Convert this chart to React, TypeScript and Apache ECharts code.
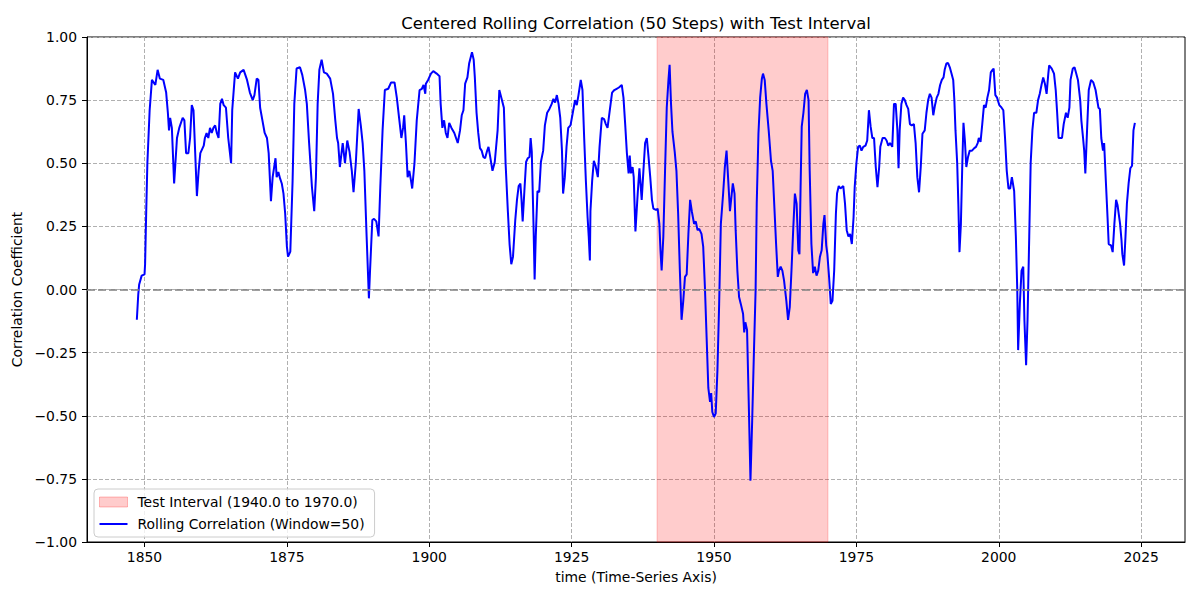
import React, { useEffect, useRef } from "react";
import * as echarts from "echarts";

const TITLE = "Centered Rolling Correlation (50 Steps) with Test Interval";
const X_NAME = "time (Time-Series Axis)";
const Y_NAME = "Correlation Coefficient";
const LINE_NAME = "Rolling Correlation (Window=50)";
const SPAN_NAME = "Test Interval (1940.0 to 1970.0)";
const SPAN_START = 1940;
const SPAN_END = 1970;
const X_TICKS = [1850, 1875, 1900, 1925, 1950, 1975, 2000, 2025];

const years = [
  1848.65, 1848.9, 1849.06, 1849.5, 1850.0, 1850.1, 1850.3, 1850.5, 1850.9, 1851.3, 1851.9, 1852.3, 1852.7, 1853.3, 1853.8,
  1854.1, 1854.3, 1854.5, 1854.8, 1855.2, 1855.7, 1856.1, 1856.7, 1857.0, 1857.3, 1857.7, 1858.0, 1858.3, 1858.6, 1858.9,
  1859.2, 1859.5, 1859.8, 1860.4, 1860.6, 1860.9, 1861.2, 1861.5, 1861.8, 1862.1, 1862.4, 1862.7, 1863.0, 1863.3, 1863.6,
  1863.9, 1864.3, 1864.7, 1865.2, 1865.4, 1865.9, 1866.4, 1866.8, 1867.4, 1868.0, 1868.5, 1869.0, 1869.3, 1869.7, 1870.0,
  1870.3, 1870.7, 1871.1, 1871.5, 1871.8, 1872.2, 1872.5, 1873.0, 1873.2, 1873.5, 1873.8, 1874.1, 1874.4, 1874.7, 1875.0,
  1875.2, 1875.6, 1876.0, 1876.3, 1876.7, 1877.3, 1877.7, 1878.2, 1878.5, 1878.9, 1879.4, 1879.8, 1880.1, 1880.4, 1880.7,
  1881.1, 1881.5, 1882.0, 1882.6, 1883.1, 1883.5, 1883.8, 1884.0, 1884.3, 1884.8, 1885.2, 1885.6, 1886.0, 1886.4, 1886.7,
  1887.1, 1887.6, 1888.0, 1888.3, 1888.6, 1889.0, 1889.4, 1889.6, 1890.0, 1890.3, 1890.7, 1891.1, 1891.4, 1891.8, 1892.2,
  1892.8, 1893.3, 1893.9, 1894.3, 1894.7, 1895.1, 1895.4, 1895.6, 1895.9, 1896.2, 1896.5, 1896.8, 1897.0, 1897.4, 1897.8,
  1898.3, 1898.7, 1899.0, 1899.3, 1899.4, 1899.8, 1900.3, 1900.7, 1901.3, 1901.8, 1902.0, 1902.3, 1902.6, 1902.9, 1903.2,
  1903.5, 1903.9, 1904.4, 1904.7, 1905.0, 1905.4, 1905.7, 1906.0, 1906.3, 1906.7, 1907.0, 1907.5, 1907.8, 1908.0, 1908.3,
  1908.6, 1908.9, 1909.2, 1909.5, 1909.8, 1910.1, 1910.4, 1910.7, 1911.1, 1911.5, 1912.0, 1912.3, 1912.7, 1913.1, 1913.4,
  1913.8, 1914.1, 1914.4, 1914.7, 1915.1, 1915.4, 1915.7, 1916.0, 1916.2, 1916.4, 1916.7, 1917.0, 1917.3, 1917.6, 1917.8,
  1918.0, 1918.3, 1918.5, 1918.7, 1919.0, 1919.3, 1919.6, 1920.0, 1920.3, 1920.7, 1921.1, 1921.5, 1921.8, 1922.1, 1922.4,
  1922.7, 1923.0, 1923.3, 1923.5, 1923.8, 1924.1, 1924.4, 1924.8, 1925.2, 1925.6, 1925.9, 1926.2, 1926.6, 1926.9, 1927.2,
  1927.5, 1927.8, 1928.0, 1928.2, 1928.3, 1928.6, 1928.9, 1929.2, 1929.6, 1929.9, 1930.3, 1930.7, 1931.0, 1931.3, 1931.7,
  1932.1, 1932.5, 1932.9, 1933.3, 1933.8, 1934.1, 1934.4, 1934.7, 1935.0, 1935.2, 1935.4, 1935.7, 1935.9, 1936.2, 1936.6,
  1936.9, 1937.3, 1937.6, 1937.9, 1938.2, 1938.5, 1938.8, 1939.1, 1939.35, 1939.8, 1940.1, 1940.4, 1940.6, 1940.8, 1941.1,
  1941.4, 1941.7, 1942.0, 1942.2, 1942.45, 1942.7, 1943.1, 1943.4, 1943.7, 1944.0, 1944.3, 1944.6, 1944.9, 1945.2, 1945.5,
  1945.8, 1946.1, 1946.5, 1946.8, 1947.1, 1947.4, 1947.8, 1948.1, 1948.4, 1948.7, 1949.0, 1949.3, 1949.5, 1949.7, 1950.0,
  1950.3, 1950.6, 1950.9, 1951.2, 1951.6, 1951.9, 1952.2, 1952.5, 1952.8, 1953.3, 1953.6, 1953.8, 1954.1, 1954.4, 1954.7,
  1955.1, 1955.3, 1955.5, 1955.8, 1956.1, 1956.4, 1956.7, 1957.0, 1957.3, 1957.5, 1957.8, 1958.1, 1958.4, 1958.6, 1958.9,
  1959.2, 1959.6, 1960.0, 1960.3, 1960.6, 1960.9, 1961.2, 1961.4, 1961.7, 1962.0, 1962.3, 1962.7, 1963.0, 1963.3, 1963.6,
  1963.9, 1964.2, 1964.5, 1964.8, 1965.0, 1965.2, 1965.4, 1965.7, 1966.0, 1966.3, 1966.6, 1966.8, 1967.1, 1967.4, 1967.7,
  1968.0, 1968.3, 1968.6, 1968.9, 1969.2, 1969.4, 1969.7, 1969.9, 1970.2, 1970.5, 1970.8, 1971.1, 1971.4, 1971.6, 1971.9,
  1972.2, 1972.7, 1973.0, 1973.3, 1973.6, 1973.9, 1974.2, 1974.5, 1974.7, 1975.0, 1975.3, 1975.6, 1975.9, 1976.2, 1976.6,
  1976.9, 1977.2, 1977.5, 1977.8, 1978.1, 1978.4, 1978.7, 1979.0, 1979.2, 1979.6, 1980.0, 1980.3, 1980.6, 1980.9, 1981.3,
  1981.6, 1981.9, 1982.2, 1982.4, 1982.6, 1982.9, 1983.2, 1983.5, 1983.8, 1984.1, 1984.4, 1984.7, 1985.1, 1985.4, 1985.7,
  1986.0, 1986.3, 1986.6, 1987.0, 1987.3, 1987.6, 1987.9, 1988.2, 1988.5, 1988.8, 1989.1, 1989.4, 1989.7, 1990.0, 1990.3,
  1990.5, 1990.8, 1991.1, 1991.4, 1991.7, 1992.0, 1992.2, 1992.4, 1992.7, 1992.9, 1993.1, 1993.35, 1993.6, 1993.8, 1994.05,
  1994.3, 1994.6, 1994.9, 1995.3, 1995.7, 1996.0, 1996.3, 1996.5, 1996.8, 1997.1, 1997.4, 1997.7, 1998.0, 1998.3, 1998.6,
  1998.9, 1999.1, 1999.4, 1999.7, 2000.1, 2000.5, 2000.8, 2001.1, 2001.4, 2001.7, 2002.0, 2002.3, 2002.7, 2003.0, 2003.25,
  2003.4, 2003.7, 2004.0, 2004.3, 2004.5, 2004.8, 2005.05, 2005.35, 2005.6, 2005.9, 2006.2, 2006.6, 2006.9, 2007.2, 2007.5,
  2007.8, 2008.1, 2008.4, 2008.7, 2008.85, 2009.3, 2009.7, 2010.0, 2010.25, 2010.5, 2010.8, 2011.1, 2011.4, 2011.8, 2012.1,
  2012.4, 2012.6, 2013.0, 2013.3, 2013.6, 2013.9, 2014.3, 2014.5, 2014.8, 2015.0, 2015.2, 2015.5, 2015.8, 2016.2, 2016.6,
  2017.0, 2017.5, 2017.75, 2018.0, 2018.3, 2018.5, 2018.8, 2019.1, 2019.3, 2019.7, 2020.0, 2020.3, 2020.6, 2020.85, 2021.3,
  2021.55, 2021.7, 2022.0, 2022.25, 2022.5, 2022.8, 2023.1, 2023.4, 2023.65, 2023.9,
];

const correlation = [
  -0.12, -0.02, 0.02, 0.055, 0.06, 0.1, 0.31, 0.5, 0.71, 0.83, 0.81, 0.87, 0.835, 0.83, 0.78,
  0.7, 0.63, 0.68, 0.64, 0.42, 0.6, 0.64, 0.68, 0.67, 0.54, 0.54, 0.6, 0.73, 0.71, 0.54,
  0.37, 0.47, 0.54, 0.57, 0.6, 0.62, 0.6, 0.64, 0.62, 0.64, 0.65, 0.62, 0.6, 0.735, 0.755,
  0.73, 0.72, 0.6, 0.5, 0.71, 0.86, 0.835, 0.86, 0.87, 0.83, 0.78, 0.75, 0.77, 0.835, 0.83,
  0.72, 0.67, 0.62, 0.6, 0.54, 0.35, 0.445, 0.52, 0.445, 0.465, 0.44, 0.42, 0.38, 0.3, 0.17,
  0.13, 0.15, 0.43, 0.735, 0.875, 0.88, 0.85, 0.79, 0.735, 0.58, 0.405, 0.31, 0.445, 0.735, 0.87,
  0.91, 0.86, 0.855, 0.835, 0.775, 0.67, 0.6, 0.58, 0.485, 0.58, 0.5, 0.59, 0.545, 0.47, 0.385,
  0.5, 0.715, 0.645, 0.58, 0.47, 0.21, -0.035, 0.075, 0.275, 0.28, 0.27, 0.21, 0.405, 0.63, 0.79,
  0.795, 0.82, 0.82, 0.76, 0.68, 0.6, 0.64, 0.69, 0.58, 0.445, 0.47, 0.43, 0.4, 0.5, 0.67,
  0.79, 0.795, 0.81, 0.775, 0.815, 0.83, 0.855, 0.865, 0.855, 0.845, 0.735, 0.64, 0.67, 0.62, 0.6,
  0.66, 0.64, 0.62, 0.6, 0.58, 0.63, 0.69, 0.71, 0.815, 0.84, 0.895, 0.94, 0.91, 0.84, 0.7,
  0.62, 0.56, 0.55, 0.525, 0.52, 0.545, 0.565, 0.525, 0.47, 0.505, 0.63, 0.79, 0.755, 0.72, 0.5,
  0.31, 0.18, 0.1, 0.13, 0.275, 0.355, 0.41, 0.42, 0.355, 0.27, 0.39, 0.505, 0.52, 0.525, 0.6,
  0.545, 0.26, 0.04, 0.21, 0.39, 0.385, 0.505, 0.55, 0.65, 0.7, 0.715, 0.735, 0.755, 0.74, 0.77,
  0.735, 0.68, 0.55, 0.38, 0.445, 0.565, 0.64, 0.65, 0.7, 0.75, 0.73, 0.77, 0.83, 0.79, 0.6,
  0.43, 0.285, 0.21, 0.115, 0.31, 0.43, 0.51, 0.49, 0.445, 0.565, 0.68, 0.675, 0.655, 0.64, 0.71,
  0.78, 0.79, 0.795, 0.8, 0.81, 0.76, 0.655, 0.54, 0.46, 0.53, 0.46, 0.485, 0.445, 0.23, 0.38,
  0.48, 0.355, 0.47, 0.58, 0.6, 0.525, 0.445, 0.355, 0.32, 0.315, 0.32, 0.26, 0.155, 0.075, 0.21,
  0.47, 0.72, 0.83, 0.89, 0.735, 0.625, 0.545, 0.47, 0.3, 0.075, -0.12, -0.045, 0.05, 0.06, 0.22,
  0.355, 0.31, 0.26, 0.27, 0.235, 0.24, 0.22, 0.17, 0.01, -0.19, -0.39, -0.445, -0.41, -0.485, -0.505,
  -0.49, -0.32, -0.057, 0.26, 0.38, 0.485, 0.55, 0.43, 0.31, 0.42, 0.38, 0.235, 0.075, -0.03, -0.057,
  -0.096, -0.17, -0.13, -0.16, -0.45, -0.757, -0.52, -0.255, -0.004, 0.34, 0.617, 0.76, 0.835, 0.855, 0.83,
  0.735, 0.63, 0.51, 0.47, 0.325, 0.18, 0.05, 0.075, 0.09, 0.075, 0.035, -0.045, -0.12, -0.07, 0.075,
  0.235, 0.38, 0.34, 0.155, 0.14, 0.405, 0.645, 0.7, 0.775, 0.79, 0.75, 0.47, 0.18, 0.065, 0.09,
  0.055, 0.075, 0.13, 0.155, 0.26, 0.295, 0.175, 0.14, 0.05, -0.057, -0.045, 0.075, 0.3, 0.38, 0.41,
  0.4, 0.41, 0.34, 0.235, 0.21, 0.22, 0.18, 0.285, 0.405, 0.5, 0.565, 0.57, 0.55, 0.565, 0.57,
  0.59, 0.71, 0.645, 0.6, 0.6, 0.485, 0.405, 0.485, 0.565, 0.6, 0.6, 0.59, 0.57, 0.58, 0.565,
  0.735, 0.735, 0.63, 0.48, 0.63, 0.735, 0.76, 0.75, 0.73, 0.715, 0.655, 0.65, 0.655, 0.58, 0.445,
  0.385, 0.485, 0.617, 0.63, 0.7, 0.75, 0.775, 0.76, 0.69, 0.73, 0.76, 0.775, 0.81, 0.83, 0.84,
  0.87, 0.895, 0.897, 0.88, 0.855, 0.83, 0.75, 0.63, 0.5, 0.34, 0.148, 0.26, 0.5, 0.66, 0.59,
  0.485, 0.525, 0.55, 0.55, 0.56, 0.565, 0.58, 0.6, 0.585, 0.655, 0.73, 0.72, 0.76, 0.79, 0.86,
  0.87, 0.875, 0.77, 0.76, 0.73, 0.72, 0.71, 0.6, 0.47, 0.4, 0.4, 0.445, 0.39, 0.21, -0.004,
  -0.24, -0.057, 0.075, 0.09, -0.12, -0.3, -0.12, 0.21, 0.5, 0.63, 0.7, 0.7, 0.75, 0.775, 0.81,
  0.84, 0.815, 0.775, 0.855, 0.888, 0.875, 0.855, 0.79, 0.7, 0.6, 0.6, 0.6, 0.655, 0.7, 0.68,
  0.72, 0.83, 0.875, 0.88, 0.855, 0.83, 0.75, 0.67, 0.6, 0.55, 0.46, 0.63, 0.79, 0.83, 0.82,
  0.79, 0.72, 0.715, 0.6, 0.55, 0.58, 0.43, 0.285, 0.18, 0.175, 0.148, 0.26, 0.355, 0.335, 0.26,
  0.195, 0.14, 0.095, 0.21, 0.34, 0.42, 0.48, 0.49, 0.63, 0.66,
];

const Y_TICK_FORMAT = (v: number) => v.toFixed(2).replace("-", "\u2212");
const X_TICK_FORMAT = (v: number) => String(Math.round(v));

const FONT = "DejaVu Sans";

export default function App() {
  const ref = useRef<HTMLDivElement>(null);

  useEffect(() => {
    if (!ref.current) return;
    const chart = echarts.init(ref.current, undefined, { renderer: "svg" });
    const lineData = years.map((y, i) => [y, correlation[i]]);

    const option = {
      animation: false,
      textStyle: { fontFamily: FONT, color: "#000" },
      title: {
        text: TITLE,
        left: 636,
        top: 15,
        textAlign: "center",
        padding: 0,
        textStyle: { fontFamily: FONT, fontSize: 16.5, fontWeight: "normal", color: "#000" },
      },
      grid: {
        left: 87,
        right: 15,
        top: 37,
        bottom: 58,
        show: true,
        borderColor: "#000",
        borderWidth: 1,
        backgroundColor: "transparent",
      },
      legend: {
        orient: "vertical",
        left: 94,
        top: 489,
        itemWidth: 28,
        itemHeight: 10,
        itemGap: 8,
        padding: [6, 10, 6, 5],
        backgroundColor: "rgba(255,255,255,0.8)",
        borderColor: "#cccccc",
        borderWidth: 1,
        borderRadius: 4,
        textStyle: { fontFamily: FONT, fontSize: 13.9, color: "#000", padding: [0, 0, 0, 5] },
        data: [
          {
            name: SPAN_NAME,
            icon: "rect",
            itemStyle: { color: "rgba(255,0,0,0.2)", borderColor: "rgba(255,0,0,0.25)", borderWidth: 1 },
          },
          { name: LINE_NAME, icon: "path://M0,0h28v2h-28z", itemStyle: { color: "#0000ff" } },
        ],
      },
      xAxis: {
        type: "value",
        min: 1839.9,
        max: 2032.7,
        name: X_NAME,
        nameLocation: "middle",
        nameGap: 28,
        nameTextStyle: { fontFamily: FONT, fontSize: 13.9, color: "#000" },
        axisLine: { show: true, onZero: false, lineStyle: { color: "#000", width: 1 } },
        axisTick: { show: true, customValues: X_TICKS, length: 5, lineStyle: { color: "#000", width: 1 } },
        axisLabel: {
          customValues: X_TICKS,
          fontFamily: FONT,
          fontSize: 13.9,
          color: "#000",
          margin: 8,
          formatter: X_TICK_FORMAT,
        },
        splitLine: { show: true, lineStyle: { color: "#b0b0b0", type: [4, 2], width: 1 } },
      },
      yAxis: {
        type: "value",
        min: -1,
        max: 1,
        interval: 0.25,
        name: Y_NAME,
        nameLocation: "middle",
        nameGap: 51,
        nameTextStyle: { fontFamily: FONT, fontSize: 13.9, color: "#000" },
        axisLine: { show: true, lineStyle: { color: "#000", width: 1 } },
        axisTick: { show: true, length: 5, lineStyle: { color: "#000", width: 1 } },
        axisLabel: { fontFamily: FONT, fontSize: 13.9, color: "#000", margin: 10, formatter: Y_TICK_FORMAT },
        splitLine: { show: true, lineStyle: { color: "#b0b0b0", type: [4, 2], width: 1 } },
      },
      series: [
        {
          name: SPAN_NAME,
          type: "line",
          data: [],
          itemStyle: { color: "rgba(255,0,0,0.2)" },
          lineStyle: { color: "rgba(255,0,0,0.2)" },
        },
        {
          name: LINE_NAME,
          type: "line",
          data: lineData,
          showSymbol: false,
          symbol: "none",
          z: 3,
          lineStyle: { color: "#0000ff", width: 2 },
          itemStyle: { color: "#0000ff" },
          markArea: {
            silent: true,
            z: 1,
            itemStyle: { color: "rgba(255,0,0,0.2)", borderColor: "rgba(255,0,0,0.22)", borderWidth: 1 },
            data: [[{ xAxis: SPAN_START }, { xAxis: SPAN_END }]],
          },
          markLine: {
            silent: true,
            symbol: "none",
            label: { show: false },
            lineStyle: { color: "#808080", type: [8, 3], width: 1.6 },
            data: [{ yAxis: 0 }],
          },
        },
      ],
    };

    chart.setOption(option as any);
    return () => chart.dispose();
  }, []);

  return (
    <div style={{ position: "absolute", left: 0, top: 0 }}>
      <div ref={ref} style={{ width: 1200, height: 600 }} />
    </div>
  );
}
